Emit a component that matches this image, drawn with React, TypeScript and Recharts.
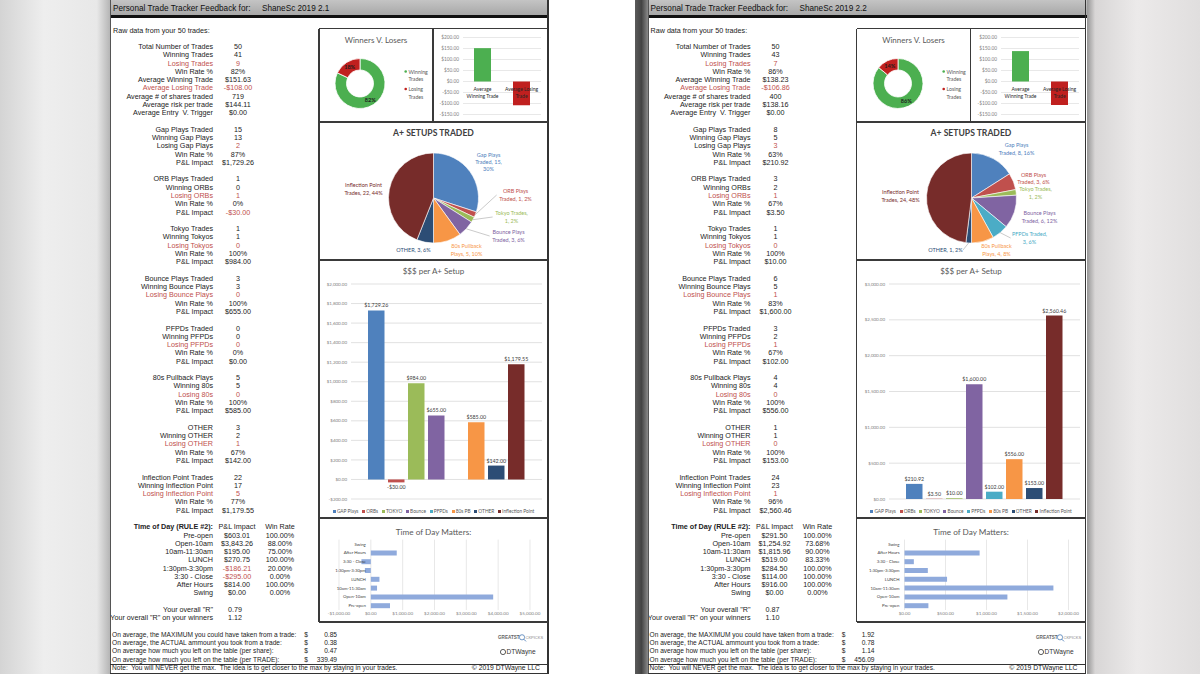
import React from 'react';
import { PieChart, Pie, Cell, BarChart, Bar, XAxis, YAxis, CartesianGrid, LabelList } from 'recharts';

// ---- data (index 0 = left sheet "2.1", index 1 = right sheet "2.2") ----
const PAGE_TITLE = ['ShaneSc 2019 2.1', 'ShaneSc 2019 2.2'];
const TOTAL_TRADES = [50, 50];
const WIN_TRADES = [41, 43];
const LOSE_TRADES = [9, 7];
const WIN_RATE = ['82%', '86%'];
const AVG_WIN = [151.63, 138.23];
const AVG_LOSS = [-108.0, -106.86];
const AVG_SHARES = [719, 400];
const AVG_RISK = [144.11, 138.16];
const AVG_ENTRY = [0, 0];

const SUMMARY_LABELS = [
  'Total Number of Trades', 'Winning Trades', 'Losing Trades', 'Win Rate %', 'Average Winning Trade',
  'Average Losing Trade', 'Average # of shares traded', 'Average risk per trade', 'Average Entry  V. Trigger',
];

const SETUP_NAMES = ['Gap Plays Traded', 'ORB Plays Traded', 'Tokyo Trades', 'Bounce Plays Traded', 'PFPDs Traded', '80s Pullback Plays', 'OTHER', 'Inflection Point Trades'];
const SETUP_WIN_LABELS = ['Winning Gap Plays', 'Winning ORBs', 'Winning Tokyos', 'Winning Bounce Plays', 'Winning PFPDs', 'Winning 80s', 'Winning OTHER', 'Winning Inflection Point'];
const SETUP_LOSE_LABELS = ['Losing Gap Plays', 'Losing ORBs', 'Losing Tokyos', 'Losing Bounce Plays', 'Losing PFPDs', 'Losing 80s', 'Losing OTHER', 'Losing Inflection Point'];
const SETUP_LEGEND = ['GAP Plays', 'ORBs', 'TOKYO', 'Bounce', 'PFPDs', '80s PB', 'OTHER', 'Inflection Point'];

const SETUP_TRADED = [[15, 1, 1, 3, 0, 5, 3, 22], [8, 3, 1, 6, 3, 4, 1, 24]];
const SETUP_WON = [[13, 0, 1, 3, 0, 5, 2, 17], [5, 2, 1, 5, 2, 4, 1, 23]];
const SETUP_LOST = [[2, 1, 0, 0, 0, 0, 1, 5], [3, 1, 0, 1, 1, 0, 0, 1]];
const SETUP_RATE = [
  ['87%', '0%', '100%', '100%', '0%', '100%', '67%', '77%'],
  ['63%', '67%', '100%', '83%', '67%', '100%', '100%', '96%'],
];
const SETUP_PNL = [
  [1729.26, -30.0, 984.0, 655.0, 0.0, 585.0, 142.0, 1179.55],
  [210.92, 3.5, 10.0, 1600.0, 102.0, 556.0, 153.0, 2560.46],
];

const TOD_SLOTS = ['Pre-open', 'Open-10am', '10am-11:30am', 'LUNCH', '1:30pm-3:30pm', '3:30 - Close', 'After Hours', 'Swing'];
const TOD_PNL = [
  [603.01, 3843.26, 195.0, 270.75, -186.21, -295.0, 814.0, 0.0],
  [291.5, 1254.92, 1815.96, 519.0, 284.5, 114.0, 916.0, 0.0],
];
const TOD_RATE = [
  ['100.00%', '88.00%', '75.00%', '100.00%', '20.00%', '0.00%', '100.00%', '0.00%'],
  ['100.00%', '73.68%', '90.00%', '83.33%', '100.00%', '100.00%', '100.00%', '0.00%'],
];

const R_OVERALL = ['0.79', '0.87'];
const R_WINNERS = ['1.12', '1.10'];

const TABLE_LABELS = [
  'On average, the MAXIMUM you could have taken from a trade:',
  'On average, the ACTUAL ammount you took from a trade:',
  'On average how much you left on the table (per share):',
  'On average how much you left on the table (per TRADE):',
];
const TABLE_VALUES = [[0.85, 0.38, 0.47, 339.49], [1.92, 0.78, 1.14, 456.09]];

const AVG_TICKS = [-150, -100, -50, 0, 50, 100, 150, 200];
const SETUP_TICKS = [
  [-200, 0, 200, 400, 600, 800, 1000, 1200, 1400, 1600, 1800, 2000],
  [0, 500, 1000, 1500, 2000, 2500, 3000],
];
const TOD_TICKS = [
  [-1000, 0, 1000, 2000, 3000, 4000, 5000],
  [0, 500, 1000, 1500, 2000],
];

// ---- styles ----
const SETUP_COLORS = ['#4f81bd', '#c0504d', '#9bbb59', '#8064a2', '#4bacc6', '#f79646', '#2c4d75', '#772c2a'];
const WL_COLORS = ['#4caf50', '#c0201f'];
const RED = '#c0504d';
const INK = '#222';
const LINE = '#3a3a3a';
const CHART_FONT = 'Lato, "Open Sans", sans-serif';

// label placement for the pie (offset of the label block from pie centre), leader flags, wrap width
const PIE_LABEL_OFFSET = [
  [[55, -36], [82, -3], [78, 19], [75, 38], [0, 0], [33, 52], [-20, 52], [-70, -9]],
  [[45, -49], [62, -19.5], [64, -5], [68, 19], [58, 40], [25, 52], [-26, 52], [-71, -2]],
];
const PIE_LEADER = [
  [false, true, true, true, false, false, false, false],
  [false, false, false, false, true, false, true, false],
];
const PIE_WRAP = [14, 14, 14, 14, 14, 14, 14, 16];

const fmtMoney = (v: number) =>
  (v < 0 ? '-$' : '$') + Math.abs(v).toLocaleString('en-US', { minimumFractionDigits: 2, maximumFractionDigits: 2 });

function wrap(text: string, max: number): string[] {
  const lines: string[] = [];
  let cur = '';
  for (const w of text.split(' ')) {
    const next = cur ? cur + ' ' + w : w;
    if (next.length > max && cur) {
      lines.push(cur);
      cur = w;
    } else cur = next;
  }
  if (cur) lines.push(cur);
  return lines;
}

type TxtProps = {
  x: number; y: number; align?: 'left' | 'right' | 'center'; size?: number; color?: string;
  bold?: boolean; family?: string; children: React.ReactNode;
};
function Txt({ x, y, align = 'left', size = 7.2, color = INK, bold = false, family, children }: TxtProps) {
  const tx = align === 'right' ? 'translateX(-100%)' : align === 'center' ? 'translateX(-50%)' : undefined;
  return (
    <div
      style={{
        position: 'absolute', left: x, top: y - 5, height: 10, lineHeight: '10px', fontSize: size, color,
        fontWeight: bold ? 700 : 400, whiteSpace: 'pre', transform: tx, fontFamily: family,
      }}
    >
      {children}
    </div>
  );
}

const HLine = ({ x1, x2, y, w = 1.2, c = LINE }: { x1: number; x2: number; y: number; w?: number; c?: string }) => (
  <div style={{ position: 'absolute', left: x1, top: y - w / 2, width: x2 - x1, height: w, background: c }} />
);
const VLine = ({ x, y1, y2, w = 1.2, c = LINE }: { x: number; y1: number; y2: number; w?: number; c?: string }) => (
  <div style={{ position: 'absolute', left: x - w / 2, top: y1, width: w, height: y2 - y1, background: c }} />
);

const ry = (i: number) => 47 + i * 8.28;
const LABEL_R = 103;
const VALUE_C = 128;

function TextColumn({ p }: { p: number }) {
  const rows: React.ReactNode[] = [];
  const add = (i: number, label: string, value: string, labelRed = false, valueRed = false) => {
    rows.push(
      <Txt key={'l' + i} x={LABEL_R} y={ry(i)} align="right" color={labelRed ? RED : INK}>{label}</Txt>,
      <Txt key={'v' + i} x={VALUE_C} y={ry(i)} align="center" color={valueRed ? RED : INK}>{value}</Txt>,
    );
  };
  const summary = [
    String(TOTAL_TRADES[p]), String(WIN_TRADES[p]), String(LOSE_TRADES[p]), WIN_RATE[p], fmtMoney(AVG_WIN[p]),
    fmtMoney(AVG_LOSS[p]), String(AVG_SHARES[p]), fmtMoney(AVG_RISK[p]), fmtMoney(AVG_ENTRY[p]),
  ];
  summary.forEach((v, i) => add(i, SUMMARY_LABELS[i], v, i === 2 || i === 5, i === 2 || i === 5));
  SETUP_NAMES.forEach((name, b) => {
    const base = 10 + 6 * b;
    add(base, name, String(SETUP_TRADED[p][b]));
    add(base + 1, SETUP_WIN_LABELS[b], String(SETUP_WON[p][b]));
    add(base + 2, SETUP_LOSE_LABELS[b], String(SETUP_LOST[p][b]), b !== 0, true);
    add(base + 3, 'Win Rate %', SETUP_RATE[p][b]);
    add(base + 4, 'P&L Impact', fmtMoney(SETUP_PNL[p][b]), false, SETUP_PNL[p][b] < 0);
  });
  // time of day table
  rows.push(
    <Txt key="todh" x={LABEL_R} y={ry(58)} align="right" bold>Time of Day (RULE #2):</Txt>,
    <Txt key="todp" x={127} y={ry(58)} align="center">P&amp;L Impact</Txt>,
    <Txt key="todw" x={170} y={ry(58)} align="center">Win Rate</Txt>,
  );
  TOD_SLOTS.forEach((slot, k) => {
    const i = 59 + k;
    const v = TOD_PNL[p][k];
    rows.push(
      <Txt key={'tl' + k} x={LABEL_R} y={ry(i)} align="right">{slot}</Txt>,
      <Txt key={'tv' + k} x={127} y={ry(i)} align="center" color={v < 0 ? RED : INK}>{fmtMoney(v)}</Txt>,
      <Txt key={'tr' + k} x={170} y={ry(i)} align="center">{TOD_RATE[p][k]}</Txt>,
    );
  });
  rows.push(
    <Txt key="r1" x={LABEL_R} y={ry(68)} align="right">Your overall "R"</Txt>,
    <Txt key="r1v" x={125} y={ry(68)} align="center">{R_OVERALL[p]}</Txt>,
    <Txt key="r2" x={LABEL_R} y={ry(69)} align="right">Your overall "R" on your winners</Txt>,
    <Txt key="r2v" x={125} y={ry(69)} align="center">{R_WINNERS[p]}</Txt>,
  );
  const fam = '"Liberation Sans", Arial, sans-serif';
  TABLE_LABELS.forEach((lab, k) => {
    const i = 71 + k;
    rows.push(
      <Txt key={'bl' + k} x={2} y={ry(i)} size={6.6} family={fam}>{lab}</Txt>,
      <Txt key={'bd' + k} x={196} y={ry(i)} size={6.6} align="center" family={fam}>$</Txt>,
      <Txt key={'bv' + k} x={227} y={ry(i)} size={6.6} align="right" family={fam}>{TABLE_VALUES[p][k].toFixed(2)}</Txt>,
    );
  });
  rows.push(
    <Txt key="note" x={2} y={ry(75) - 0.5} size={6.6} family={fam}>
      {'Note:  You will NEVER get the max.  The idea is to get closer to the max by staying in your trades.'}
    </Txt>,
    <Txt key="copy" x={430} y={ry(75) - 0.5} size={6.8} align="right" family={fam}>© 2019 DTWayne LLC</Txt>,
  );
  return <>{rows}</>;
}

function WinLossDonut({ p }: { p: number }) {
  const data = [
    { name: 'Winning Trades', value: WIN_TRADES[p] },
    { name: 'Losing Trades', value: LOSE_TRADES[p] },
  ];
  const label = (props: any) => {
    const { cx, cy, midAngle, innerRadius, outerRadius, percent } = props;
    const r = (innerRadius + outerRadius) / 2;
    const a = (-midAngle * Math.PI) / 180;
    return (
      <text x={cx + r * Math.cos(a)} y={cy + r * Math.sin(a)} textAnchor="middle" dominantBaseline="central"
        fontSize={5.5} fontWeight={700} fill="#1e1e1e">
        {Math.round(percent * 100)}%
      </text>
    );
  };
  return (
    <div style={{ position: 'absolute', left: 209, top: 28.5, width: 114, height: 93.5, fontFamily: CHART_FONT }}>
      <Txt x={57} y={11.5} align="center" size={8} color="#595959" family={CHART_FONT}>Winners V. Losers</Txt>
      <PieChart width={114} height={93.5} margin={{ top: 0, right: 0, bottom: 0, left: 0 }}>
        <Pie data={data} dataKey="value" cx={41} cy={54.5} innerRadius={13.5} outerRadius={25} startAngle={90}
          endAngle={-270} stroke="#fff" strokeWidth={0.8} labelLine={false} label={label} isAnimationActive={false}>
          {data.map((d, i) => <Cell key={d.name} fill={WL_COLORS[i]} />)}
        </Pie>
      </PieChart>
      <svg width={30} height={40} style={{ position: 'absolute', left: 84, top: 36 }}>
        {data.map((d, i) => {
          const [a, b] = wrap(d.name, 8);
          const y0 = 6.5 + i * 17.5;
          return (
            <g key={d.name} fontSize={5.2} fill="#595959">
              <circle cx={2.7} cy={y0} r={1.3} fill={WL_COLORS[i]} />
              <text x={5.5} y={y0} dominantBaseline="central">{a}</text>
              <text x={5.5} y={y0 + 7.5} dominantBaseline="central">{b}</text>
            </g>
          );
        })}
      </svg>
    </div>
  );
}

function AvgTradeBars({ p }: { p: number }) {
  const data = [
    { name: 'Average Winning Trade', value: AVG_WIN[p] },
    { name: 'Average Losing Trade', value: AVG_LOSS[p] },
  ];
  const top = 8.5;
  const plotH = 77;
  const zeroY = top + (plotH * AVG_TICKS[AVG_TICKS.length - 1]) / (AVG_TICKS[AVG_TICKS.length - 1] - AVG_TICKS[0]);
  const tick = (props: any) => {
    const lines = wrap(String(props.payload.value), 14);
    return (
      <g>
        {lines.map((t, k) => (
          <text key={k} x={props.x} y={zeroY + 7 + k * 7} textAnchor="middle" dominantBaseline="central" fontSize={5} fill="#262626">
            {t}
          </text>
        ))}
      </g>
    );
  };
  return (
    <div style={{ position: 'absolute', left: 323, top: 28.5, width: 115, height: 93.5, fontFamily: CHART_FONT }}>
      <BarChart width={115} height={93.5} data={data} margin={{ top, right: 7, bottom: 7, left: 0 }}>
        <CartesianGrid vertical={false} stroke="#d9d9d9" strokeWidth={0.6} />
        <YAxis width={30} domain={[AVG_TICKS[0], AVG_TICKS[AVG_TICKS.length - 1]]} ticks={AVG_TICKS} interval={0}
          axisLine={false} tickLine={false} tickSize={0} tickMargin={4} tickFormatter={fmtMoney}
          tick={{ fontSize: 4.8, fill: '#7f7f7f' }} />
        <Bar dataKey="value" barSize={17} isAnimationActive={false}>
          {data.map((d, i) => <Cell key={d.name} fill={WL_COLORS[i]} />)}
        </Bar>
        <XAxis dataKey="name" height={1} axisLine={false} tickLine={false} interval={0} tick={tick} />
      </BarChart>
    </div>
  );
}

function SetupPie({ p }: { p: number }) {
  const data = SETUP_NAMES.map((name, i) => ({ name, value: SETUP_TRADED[p][i] }));
  const label = (props: any) => {
    const { cx, cy, midAngle, outerRadius, index, value, percent } = props;
    if (!value) return null;
    const [dx, dy] = PIE_LABEL_OFFSET[p][index];
    const lx = cx + dx;
    const ly = cy + dy;
    const lines = wrap(`${SETUP_NAMES[index]}, ${value}, ${Math.round(percent * 100)}%`, PIE_WRAP[index]);
    const lh = 7.3;
    const halfW = (Math.max(...lines.map((l) => l.length)) * 2.75) / 2;
    const a = (-midAngle * Math.PI) / 180;
    const sx = cx + outerRadius * Math.cos(a);
    const sy = cy + outerRadius * Math.sin(a);
    const ex = lx > cx ? lx - halfW - 1 : lx + halfW + 1;
    return (
      <g>
        {PIE_LEADER[p][index] && <line x1={sx} y1={sy} x2={ex} y2={ly} stroke="#a6a6a6" strokeWidth={0.6} />}
        {lines.map((t, k) => (
          <text key={k} x={lx} y={ly - ((lines.length - 1) * lh) / 2 + k * lh} textAnchor="middle"
            dominantBaseline="central" fontSize={5.5} fill={SETUP_COLORS[index]}>
            {t}
          </text>
        ))}
      </g>
    );
  };
  return (
    <div style={{ position: 'absolute', left: 209, top: 122, width: 229, height: 138, fontFamily: CHART_FONT }}>
      <Txt x={114.5} y={10.5} align="center" size={8.6} bold color="#404040" family={CHART_FONT}>A+ SETUPS TRADED</Txt>
      <PieChart width={229} height={138} margin={{ top: 0, right: 0, bottom: 0, left: 0 }}>
        <Pie data={data} dataKey="value" cx={114.5} cy={76} outerRadius={45} startAngle={90} endAngle={-270}
          stroke="#fff" strokeWidth={0.6} labelLine={false} label={label} isAnimationActive={false}>
          {data.map((d, i) => <Cell key={d.name} fill={SETUP_COLORS[i]} />)}
        </Pie>
      </PieChart>
    </div>
  );
}

function SetupBars({ p }: { p: number }) {
  const row: Record<string, string | number> = { cat: 'A+' };
  SETUP_LEGEND.forEach((k, i) => {
    row[k] = SETUP_PNL[p][i];
  });
  const ticks = SETUP_TICKS[p];
  return (
    <div style={{ position: 'absolute', left: 209, top: 260, width: 229, height: 258, fontFamily: CHART_FONT }}>
      <Txt x={114.5} y={11} align="center" size={8} color="#595959" family={CHART_FONT}>$$$ per A+ Setup</Txt>
      <BarChart width={229} height={258} data={[row]} margin={{ top: 24, right: 6, bottom: 19, left: 0 }} barGap={3.5}>
        <CartesianGrid vertical={false} stroke="#d9d9d9" strokeWidth={0.8} />
        <XAxis dataKey="cat" hide />
        <YAxis width={32} domain={[ticks[0], ticks[ticks.length - 1]]} ticks={ticks} interval={0} axisLine={false}
          tickLine={false} tickSize={0} tickMargin={4} tickFormatter={fmtMoney} tick={{ fontSize: 4.5, fill: '#7f7f7f' }} />
        {SETUP_LEGEND.map((k, i) => (
          <Bar key={k} dataKey={k} name={k} fill={SETUP_COLORS[i]} barSize={16.5} isAnimationActive={false}>
            <LabelList dataKey={k} position="top" offset={3} formatter={(v: any) => fmtMoney(Number(v))}
              fontSize={5.3} fill="#404040" />
          </Bar>
        ))}
      </BarChart>
      <div style={{ position: 'absolute', left: 0, top: 248, width: 229, display: 'flex', justifyContent: 'center', gap: 3.6, fontSize: 4.8, color: '#595959', lineHeight: '6px', whiteSpace: 'nowrap' }}>
        {SETUP_LEGEND.map((k, i) => (
          <span key={k} style={{ display: 'flex', alignItems: 'center', gap: 1.2 }}>
            <span style={{ width: 3, height: 3, background: SETUP_COLORS[i], display: 'inline-block' }} />
            {k}
          </span>
        ))}
      </div>
    </div>
  );
}

function TimeOfDayBars({ p }: { p: number }) {
  const data = TOD_SLOTS.map((slot, i) => ({ slot, pnl: TOD_PNL[p][i] }));
  const ticks = TOD_TICKS[p];
  const min = ticks[0];
  const max = ticks[ticks.length - 1];
  const yw = p === 0 ? 20 : 47.5;
  const right = p === 0 ? 18 : 17.5;
  const plotW = 229 - yw - right;
  const zeroX = yw + (plotW * (0 - min)) / (max - min);
  const tick = (props: any) => (
    <text x={zeroX - 5} y={props.y} textAnchor="end" dominantBaseline="central" fontSize={4.3} fill="#404040">
      {props.payload.value}
    </text>
  );
  return (
    <div style={{ position: 'absolute', left: 209, top: 518, width: 229, height: 104, fontFamily: CHART_FONT }}>
      <Txt x={114.5} y={14} align="center" size={8.2} color="#595959" family={CHART_FONT}>Time of Day Matters:</Txt>
      <BarChart layout="vertical" width={229} height={104} data={data} margin={{ top: 21.6, right, bottom: 0, left: 0 }}>
        <CartesianGrid horizontal={false} stroke="#d9d9d9" strokeWidth={0.6} />
        <XAxis type="number" domain={[min, max]} ticks={ticks} interval={0} height={12} axisLine={false} tickLine={false}
          tickSize={0} tickMargin={2} tickFormatter={fmtMoney} tick={{ fontSize: 4.6, fill: '#7f7f7f' }} />
        <YAxis type="category" dataKey="slot" reversed width={yw} interval={0} axisLine={false} tickLine={false} tick={tick} />
        <Bar dataKey="pnl" fill="#8faadc" barSize={5} isAnimationActive={false} />
      </BarChart>
    </div>
  );
}

function Logos() {
  return (
    <svg width={50} height={26} style={{ position: 'absolute', left: 386, top: 633 }}>
      <text x={2} y={6} fontSize={4.6} fontWeight={700} fill="#666" fontFamily="Liberation Sans, Arial">GREATST</text>
      <circle cx={26} cy={4.3} r={2.6} fill="none" stroke="#4f7fb8" strokeWidth={0.8} />
      <line x1={27.8} y1={6.2} x2={30} y2={8.4} stroke="#4f7fb8" strokeWidth={0.9} />
      <text x={29.5} y={6} fontSize={4} fill="#888" fontFamily="Liberation Sans, Arial">CKPICKS</text>
      <circle cx={7} cy={19} r={2.6} fill="none" stroke="#333" strokeWidth={0.8} />
      <text x={10.5} y={21} fontSize={6.6} fill="#333" fontFamily="Liberation Sans, Arial">DTWayne</text>
    </svg>
  );
}

function Page({ p, left }: { p: number; left: number }) {
  return (
    <div style={{ position: 'absolute', left, top: 0, width: 439, height: 674, background: '#fff', overflow: 'hidden' }}>
      <div style={{ position: 'absolute', left: 0, top: 0, width: 439, height: 15, background: 'linear-gradient(#c4c4c4,#a8a8a8)' }} />
      <div style={{ position: 'absolute', left: 0, top: 15, width: 439, height: 3, background: '#111' }} />
      <Txt x={3} y={8.5} size={8.2} color="#111">Personal Trade Tracker Feedback for:</Txt>
      <Txt x={152} y={8.5} size={8.2} color="#111">{PAGE_TITLE[p]}</Txt>
      <Txt x={3} y={31} size={7.2}>Raw data from your {TOTAL_TRADES[p]} trades:</Txt>

      <TextColumn p={p} />

      <WinLossDonut p={p} />
      <AvgTradeBars p={p} />
      <SetupPie p={p} />
      <SetupBars p={p} />
      <TimeOfDayBars p={p} />
      <Logos />

      {/* sheet and chart-box borders */}
      <VLine x={0.6} y1={0} y2={674} c="#555" />
      <VLine x={437.8} y1={0} y2={674} w={1.6} c="#333" />
      <HLine x1={209} x2={438} y={28.5} />
      <VLine x={209} y1={28.5} y2={622} />
      <VLine x={323} y1={28.5} y2={122} />
      <HLine x1={209} x2={438} y={122} />
      <HLine x1={209} x2={438} y={260} />
      <HLine x1={209} x2={438} y={518} />
      <HLine x1={209} x2={438} y={622} />
      <HLine x1={0} x2={438} y={664.5} w={1} c="#333" />
      <HLine x1={0} x2={438} y={673} w={1} c="#333" />
    </div>
  );
}

export default function App() {
  return (
    <div style={{ position: 'absolute', left: 0, top: 0, width: 1200, height: 674, overflow: 'hidden', background: '#fff', fontFamily: '"Liberation Sans", Arial, sans-serif' }}>
      <div style={{ position: 'absolute', left: 0, top: 0, width: 110, height: 674, background: 'linear-gradient(90deg,#d4d4d4,#eeeeee 40%,#e8e8e8 88%,#b5b5b5)' }} />
      <div style={{ position: 'absolute', left: 1086, top: 0, width: 114, height: 674, background: 'linear-gradient(90deg,#8e8e8e,#d8d6d6 8%,#eceaea 45%,#e0dede)' }} />
      <div style={{ position: 'absolute', left: 635, top: 0, width: 13, height: 674, background: 'linear-gradient(90deg,#5a5a5a,#444 50%,#8a8a8a)' }} />
      <Page p={0} left={110} />
      <Page p={1} left={647.5} />
    </div>
  );
}
